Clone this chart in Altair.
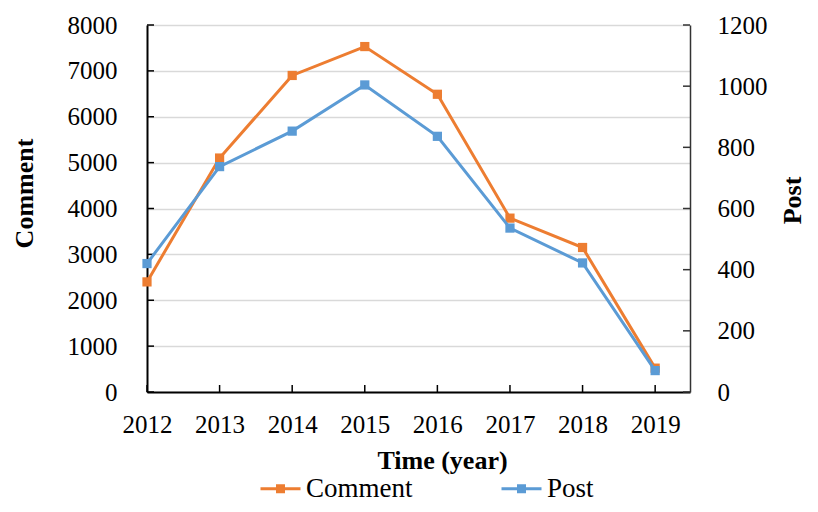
import altair as alt
import pandas as pd

# ---- data ----
years = [2012, 2013, 2014, 2015, 2016, 2017, 2018, 2019]
comment = [2400, 5100, 6900, 7530, 6490, 3790, 3150, 520]
post = [420, 737, 853, 1004, 836, 536, 422, 70]
comment_ticks = [0, 1000, 2000, 3000, 4000, 5000, 6000, 7000, 8000]
post_ticks = [0, 200, 400, 600, 800, 1000, 1200]
series = ["Comment", "Post"]
colors = ["#ED7D31", "#5B9BD5"]

FONT = "Liberation Serif"
W, H = 543, 367

df = pd.DataFrame({"year": years, "Comment": comment, "Post": post})
df_ct = pd.DataFrame({"v": comment_ticks})
df_pt = pd.DataFrame({"v": post_ticks})
df_yr = pd.DataFrame({"year": years})

x_scale = alt.Scale(domain=[2012, 2019.48], nice=False, zero=False)
yc_scale = alt.Scale(domain=[0, 8000], nice=False)
yp_scale = alt.Scale(domain=[0, 1200], nice=False)
color_scale = alt.Scale(domain=series, range=colors)

x_axis = alt.Axis(
    values=years, format="d", title="Time (year)",
    titleFont=FONT, titleFontSize=26, titleFontWeight="bold", titleColor="black",
    titleX=295, titleY=68, titleAlign="center", titleBaseline="middle",
    labelFont=FONT, labelFontSize=25, labelColor="black", labelPadding=20,
    labelFlush=False, labelOverlap=False,
    ticks=False, grid=False,
    domainColor="black", domainWidth=2,
)
yl_axis = alt.Axis(
    values=comment_ticks, format="d", title="Comment", orient="left",
    titleFont=FONT, titleFontSize=26, titleFontWeight="bold", titleColor="black",
    titleX=-123, titleY=168, titleAngle=270, titleAlign="center", titleBaseline="middle",
    labelFont=FONT, labelFontSize=25, labelColor="black", labelPadding=30,
    ticks=False,
    grid=True, gridColor="#d9d9d9", gridWidth=1.5,
    domainColor="black", domainWidth=2,
)
yr_axis = alt.Axis(
    values=post_ticks, format="d", title="Post", orient="right",
    titleFont=FONT, titleFontSize=26, titleFontWeight="bold", titleColor="black",
    titleX=102, titleY=175, titleAngle=270, titleAlign="center", titleBaseline="middle",
    labelFont=FONT, labelFontSize=25, labelColor="black", labelPadding=27,
    ticks=False, grid=False,
    domainColor="#333333", domainWidth=1.5,
)

# legend symbol: a line with a small filled square in the middle
sym = ("M-1,0H1"
       "M-0.15,-0.15H0.15V0.15H-0.15Z"
       "M-0.075,-0.075H0.075V0.075H-0.075Z")
legend = alt.Legend(
    orient="none", legendX=112, legendY=442, direction="horizontal", title=None,
    labelFont=FONT, labelFontSize=27, labelColor="black", labelOffset=4, labelLimit=300,
    symbolType=sym, symbolSize=1600, symbolStrokeWidth=3, columnPadding=82, padding=0,
)

base = alt.Chart(df)
X = alt.X("year:Q", scale=x_scale, axis=x_axis)

# inner tick marks of the three axes (drawn from the tick-value lists)
comment_tk = alt.Chart(df_ct).mark_rule(color="black", strokeWidth=1.5).encode(
    y=alt.Y("v:Q", scale=yc_scale, axis=None),
    x=alt.value(0), x2=alt.value(7),
)
post_tk = alt.Chart(df_pt).mark_rule(color="#333333", strokeWidth=1.5).encode(
    y=alt.Y("v:Q", scale=yp_scale, axis=None),
    x=alt.value(W - 7), x2=alt.value(W),
)
x_tk = alt.Chart(df_yr).mark_rule(color="black", strokeWidth=1.5).encode(
    x=X, y=alt.value(H - 7), y2=alt.value(H),
)

comment_line = base.transform_calculate(series="'Comment'").mark_line(strokeWidth=3).encode(
    x=X,
    y=alt.Y("Comment:Q", scale=yc_scale, axis=yl_axis),
    color=alt.Color("series:N", scale=color_scale, legend=legend),
)
comment_pts = base.mark_square(size=85, opacity=1, color=colors[0]).encode(
    x=X,
    y=alt.Y("Comment:Q", scale=yc_scale, axis=None),
)
post_line = base.transform_calculate(series="'Post'").mark_line(strokeWidth=3).encode(
    x=X,
    y=alt.Y("Post:Q", scale=yp_scale, axis=yr_axis),
    color=alt.Color("series:N", scale=color_scale, legend=legend),
)
post_pts = base.mark_square(size=85, opacity=1, color=colors[1]).encode(
    x=X,
    y=alt.Y("Post:Q", scale=yp_scale, axis=None),
)

chart = alt.layer(
    comment_line, post_tk, comment_tk, x_tk, comment_pts, post_line, post_pts
).resolve_scale(y="independent").properties(
    width=W, height=H,
    autosize=alt.AutoSizeParams(type="none"),
    padding={"left": 139, "top": 17, "right": 120, "bottom": 112},
).configure_view(strokeOpacity=0)

chart.save("out.html", embed_options={"renderer": "svg", "actions": False})
